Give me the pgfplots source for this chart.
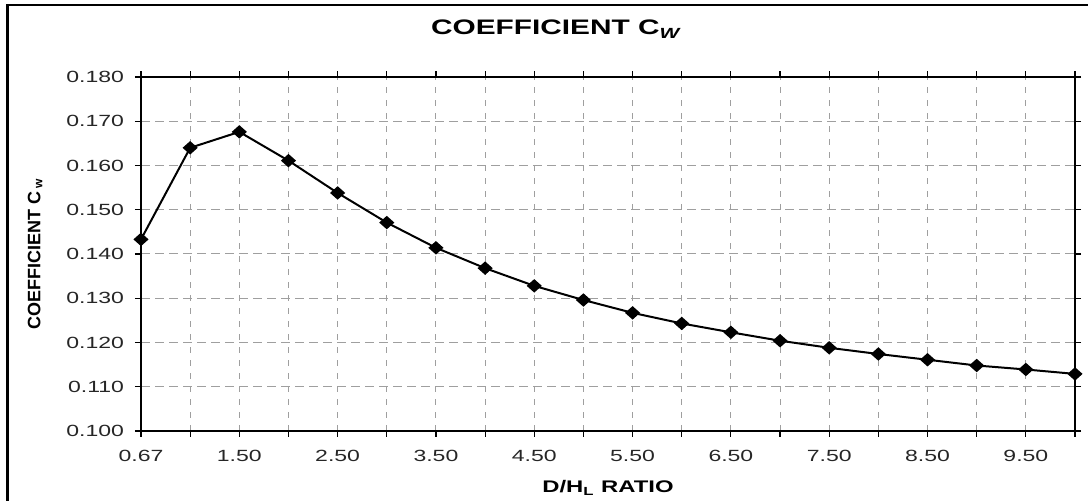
\documentclass[border=0pt]{standalone}
\usepackage{fontspec}
\setmainfont{Liberation Sans}
\usepackage{pgfplots}
\usepackage{pgfplotstable}
\pgfplotsset{compat=1.18}
\newfontfamily\widefont[FakeStretch=1.42]{Liberation Sans}

% idx  ratio  Cw
\pgfplotstableread{
idx ratio cw
0  0.67 0.1433
1  1.00 0.1640
2  1.50 0.1676
3  2.00 0.1611
4  2.50 0.1538
5  3.00 0.1471
6  3.50 0.1414
7  4.00 0.1368
8  4.50 0.1328
9  5.00 0.1296
10 5.50 0.1267
11 6.00 0.1243
12 6.50 0.1223
13 7.00 0.1204
14 7.50 0.1188
15 8.00 0.1174
16 8.50 0.1161
17 9.00 0.1148
18 9.50 0.1139
19 10.00 0.1129
}\cwdata

\begin{document}
\begin{tikzpicture}
\useasboundingbox (0,0) rectangle (544pt,250.5pt);
\draw[line width=1.4pt] (3.6pt,-2pt) -- (3.6pt,248pt) -- (560pt,248pt);
\begin{axis}[
  at={(70.5pt,35pt)}, anchor=south west,
  scale only axis, width=467pt, height=177pt,
  xmin=0, xmax=19, ymin=0.1, ymax=0.18,
  xtick={0,...,19},
  xticklabels={0.67,,1.50,,2.50,,3.50,,4.50,,5.50,,6.50,,7.50,,8.50,,9.50,},
  ytick={0.10,0.11,0.12,0.13,0.14,0.15,0.16,0.17,0.18},
  /pgf/number format/fixed,
  /pgf/number format/fixed zerofill,
  /pgf/number format/precision=3,
  /pgf/number format/assume math mode=true,
  tick label style={font=\widefont\fontsize{8.1}{9}\selectfont, text=black!85},
  xticklabel style={yshift=-3pt},
  yticklabel style={xshift=-2pt},
  tick align=outside, major tick length=3pt,
  tick style={black, line width=0.6pt},
  axis line style={black, line width=1.2pt},
  grid=major,
  x grid style={gray!75, line width=0.5pt, dash pattern=on 3pt off 3.5pt},
  y grid style={gray!75, line width=0.5pt, dash pattern=on 4.5pt off 2.5pt},
  every axis title shift=0pt,
  title={\widefont\bfseries\fontsize{10.5}{12}\selectfont COEFFICIENT C\textsubscript{\itshape W}},
  title style={at={(axis description cs:0.444,1.135)}, anchor=center},
  xlabel={\widefont\bfseries\fontsize{8.4}{10}\selectfont D/H\textsubscript{L} RATIO},
  xlabel style={at={(axis description cs:0.5,-0.161)}, anchor=center},
  ylabel={\bfseries\fontsize{9}{11}\selectfont COEFFICIENT C\hspace{1.5pt}\textsubscript{w}},
  ylabel style={at={(axis description cs:-0.1135,0.5)}, anchor=center},
]
\addplot[black, line width=1pt, mark=diamond*, mark size=2.7pt, mark options={xscale=1.5, fill=black, solid}]
  table[x=idx, y=cw]{\cwdata};
\end{axis}
\end{tikzpicture}
\end{document}
